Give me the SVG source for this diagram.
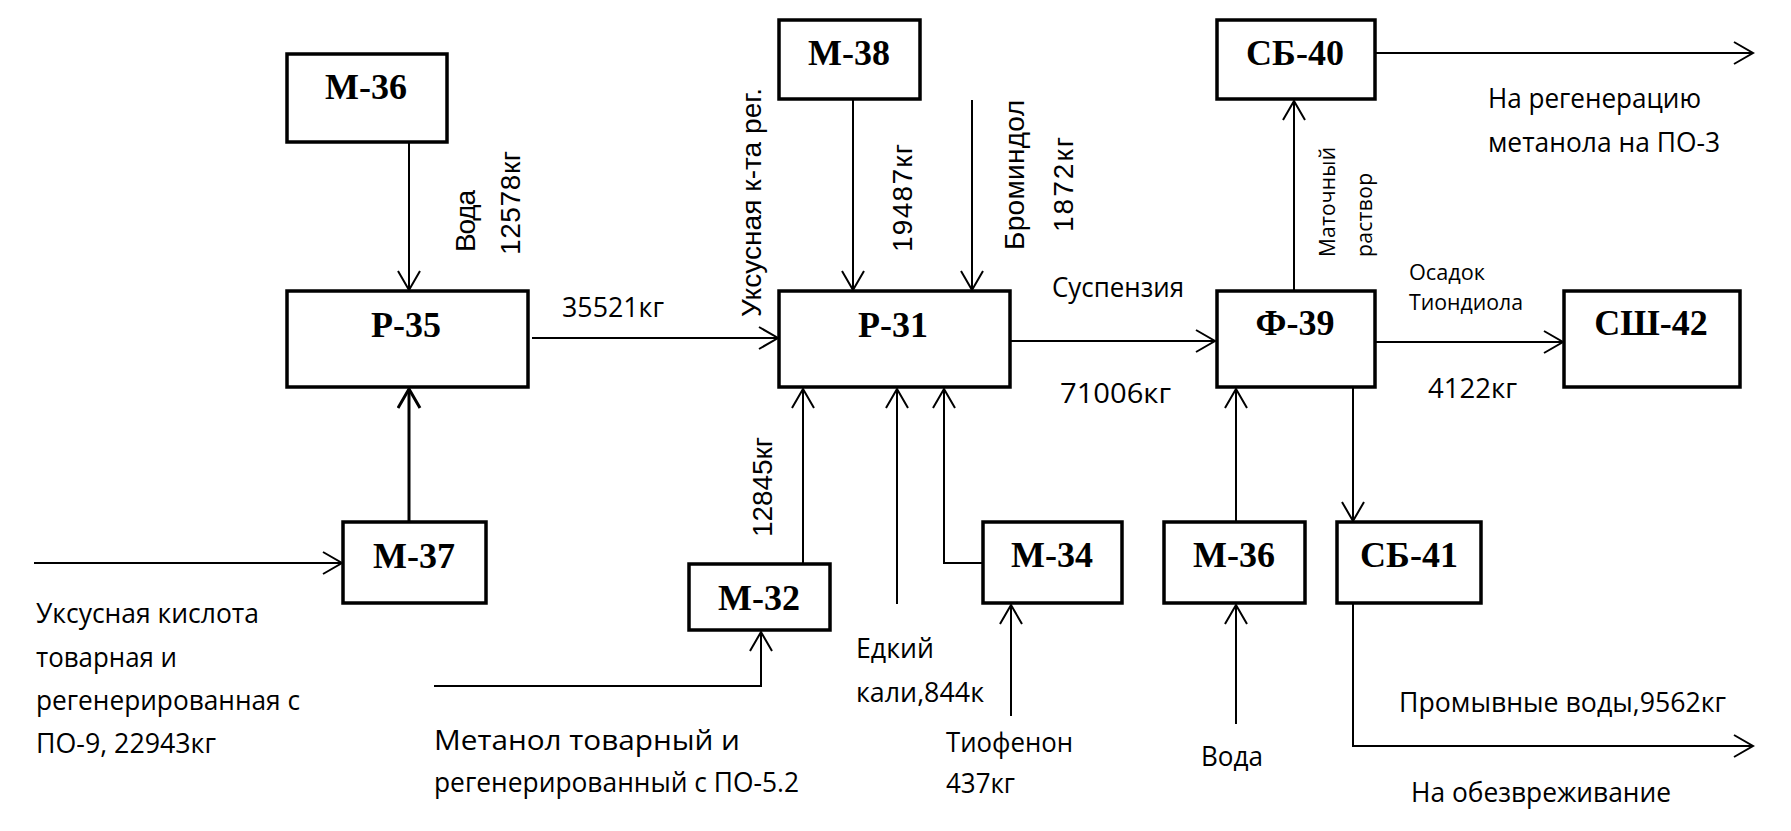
<svg xmlns="http://www.w3.org/2000/svg" width="1791" height="831" viewBox="0 0 1791 831">
<style>
.box{fill:#fff;stroke:#000;stroke-width:3.5}
.lbl{font-family:"Liberation Serif","Times New Roman",serif;font-weight:bold;font-size:36px;text-anchor:middle;fill:#000}
.c{fill:none;stroke:#000;stroke-width:2;marker-end:url(#ah)}
.ct{fill:none;stroke:#000;stroke-width:3;marker-end:url(#ahT)}
.p{fill:none;stroke:#000;stroke-width:2}
.t{font-family:"Open Sans","Noto Sans",sans-serif;font-size:27px;fill:#000}
.s{font-family:"Open Sans","Noto Sans",sans-serif;font-size:21px;fill:#000}
.r{font-family:"Liberation Sans",Arial,sans-serif;font-size:28px;fill:#000}
</style>
<defs>
<marker id="ah" markerUnits="userSpaceOnUse" markerWidth="30" markerHeight="30" refX="20" refY="12" orient="auto" viewBox="0 0 30 30">
<path d="M1,1 L20,12 L1,23" fill="none" stroke="#000" stroke-width="2"/>
</marker>
<marker id="ahT" markerUnits="userSpaceOnUse" markerWidth="30" markerHeight="30" refX="20" refY="12" orient="auto" viewBox="0 0 30 30">
<path d="M1,1 L20,12 L1,23" fill="none" stroke="#000" stroke-width="3"/>
</marker>
</defs>
<rect width="1791" height="831" fill="#fff"/>

<g id="connectors">
<path class="c" d="M409,143 V290"/>
<path class="ct" d="M409,521 V389"/>
<path class="c" d="M34,563 H342"/>
<path class="c" d="M532,338 H778"/>
<path class="c" d="M853,100 V290"/>
<path class="c" d="M972,100 V290"/>
<path class="c" d="M1011,341 H1215"/>
<path class="p" d="M1007,320 V367" stroke-width="1.5"/>
<path class="c" d="M803,563 V389"/>
<path class="c" d="M897,604 V389"/>
<path class="c" d="M982,563 H944 V389"/>
<path class="c" d="M434,686 H761 V632"/>
<path class="c" d="M1011,716 V605"/>
<path class="c" d="M1236,724 V605"/>
<path class="c" d="M1236,521 V389"/>
<path class="c" d="M1353,388 V521"/>
<path class="c" d="M1353,604 V746 H1753"/>
<path class="c" d="M1294,290 V101"/>
<path class="c" d="M1376,53 H1753"/>
<path class="c" d="M1376,342 H1563"/>
</g>

<g id="M-36a"><rect class="box" x="287" y="54" width="160" height="88"/><text class="lbl" x="366" y="99">М-36</text></g>
<g id="P-35"><rect class="box" x="287" y="291" width="241" height="96"/><text class="lbl" x="406" y="337">Р-35</text></g>
<g id="M-37"><rect class="box" x="343" y="522" width="143" height="81"/><text class="lbl" x="414" y="568">М-37</text></g>
<g id="M-38"><rect class="box" x="779" y="20" width="141" height="79"/><text class="lbl" x="849" y="65">М-38</text></g>
<g id="P-31"><rect class="box" x="779" y="291" width="231" height="96"/><text class="lbl" x="893" y="337">Р-31</text></g>
<g id="M-32"><rect class="box" x="689" y="564" width="141" height="66"/><text class="lbl" x="759" y="610">М-32</text></g>
<g id="M-34"><rect class="box" x="983" y="522" width="139" height="81"/><text class="lbl" x="1052" y="567">М-34</text></g>
<g id="M-36b"><rect class="box" x="1164" y="522" width="141" height="81"/><text class="lbl" x="1234" y="567">М-36</text></g>
<g id="SB-41"><rect class="box" x="1337" y="522" width="144" height="81"/><text class="lbl" x="1409" y="567">СБ-41</text></g>
<g id="SB-40"><rect class="box" x="1217" y="20" width="158" height="79"/><text class="lbl" x="1295" y="65">СБ-40</text></g>
<g id="F-39"><rect class="box" x="1217" y="291" width="158" height="96"/><text class="lbl" x="1295" y="335">Ф-39</text></g>
<g id="SSH-42"><rect class="box" x="1564" y="291" width="176" height="96"/><text class="lbl" x="1651" y="335">СШ-42</text></g>

<g id="labels">
<text class="r" x="475" y="252" transform="rotate(-90 475 252)" textLength="62">Вода</text>
<text class="r" x="520" y="255" transform="rotate(-90 520 255)" textLength="104">12578кг</text>
<text class="r" x="761" y="317" transform="rotate(-90 761 317)" textLength="229">Уксусная к-та рег.</text>
<text class="r" x="912" y="252" transform="rotate(-90 912 252)" textLength="108">19487кг</text>
<text class="r" x="1024" y="250" transform="rotate(-90 1024 250)" textLength="150">Броминдол</text>
<text class="r" x="1073" y="232" transform="rotate(-90 1073 232)" textLength="95">1872кг</text>
<text class="r" x="772" y="537" transform="rotate(-90 772 537)" textLength="100">12845кг</text>
<text class="s" x="1335" y="257" transform="rotate(-90 1335 257)" textLength="110">Маточный</text>
<text class="s" x="1372" y="257" transform="rotate(-90 1372 257)" textLength="84">раствор</text>

<text class="t" x="562" y="317" textLength="102" lengthAdjust="spacingAndGlyphs">35521кг</text>
<text class="t" x="1052" y="297" textLength="132" lengthAdjust="spacingAndGlyphs">Суспензия</text>
<text class="t" x="1060" y="403" textLength="111" lengthAdjust="spacingAndGlyphs">71006кг</text>
<text class="s" x="1409" y="280" textLength="76" lengthAdjust="spacingAndGlyphs">Осадок</text>
<text class="s" x="1409" y="310" textLength="114" lengthAdjust="spacingAndGlyphs">Тиондиола</text>
<text class="t" x="1428" y="398" textLength="89" lengthAdjust="spacingAndGlyphs">4122кг</text>
<text class="t" x="1488" y="108" textLength="213" lengthAdjust="spacingAndGlyphs">На регенерацию</text>
<text class="t" x="1488" y="152" textLength="232" lengthAdjust="spacingAndGlyphs">метанола на ПО-3</text>
<text class="t" x="1399" y="712" textLength="327" lengthAdjust="spacingAndGlyphs">Промывные воды,9562кг</text>
<text class="t" x="1411" y="802" textLength="260" lengthAdjust="spacingAndGlyphs">На обезвреживание</text>
<text class="t" x="1201" y="766" textLength="62" lengthAdjust="spacingAndGlyphs">Вода</text>
<text class="t" x="36" y="623" textLength="223" lengthAdjust="spacingAndGlyphs">Уксусная кислота</text>
<text class="t" x="36" y="667" textLength="141" lengthAdjust="spacingAndGlyphs">товарная и</text>
<text class="t" x="36" y="710" textLength="264" lengthAdjust="spacingAndGlyphs">регенерированная с</text>
<text class="t" x="36" y="753" textLength="180" lengthAdjust="spacingAndGlyphs">ПО-9, 22943кг</text>
<text class="t" x="434" y="750" textLength="306" lengthAdjust="spacingAndGlyphs">Метанол товарный и</text>
<text class="t" x="434" y="792" textLength="365" lengthAdjust="spacingAndGlyphs">регенерированный с ПО-5.2</text>
<text class="t" x="856" y="658" textLength="78" lengthAdjust="spacingAndGlyphs">Едкий</text>
<text class="t" x="856" y="702" textLength="128" lengthAdjust="spacingAndGlyphs">кали,844к</text>
<text class="t" x="946" y="752" textLength="127" lengthAdjust="spacingAndGlyphs">Тиофенон</text>
<text class="t" x="946" y="793" textLength="69" lengthAdjust="spacingAndGlyphs">437кг</text>
</g>
</svg>
